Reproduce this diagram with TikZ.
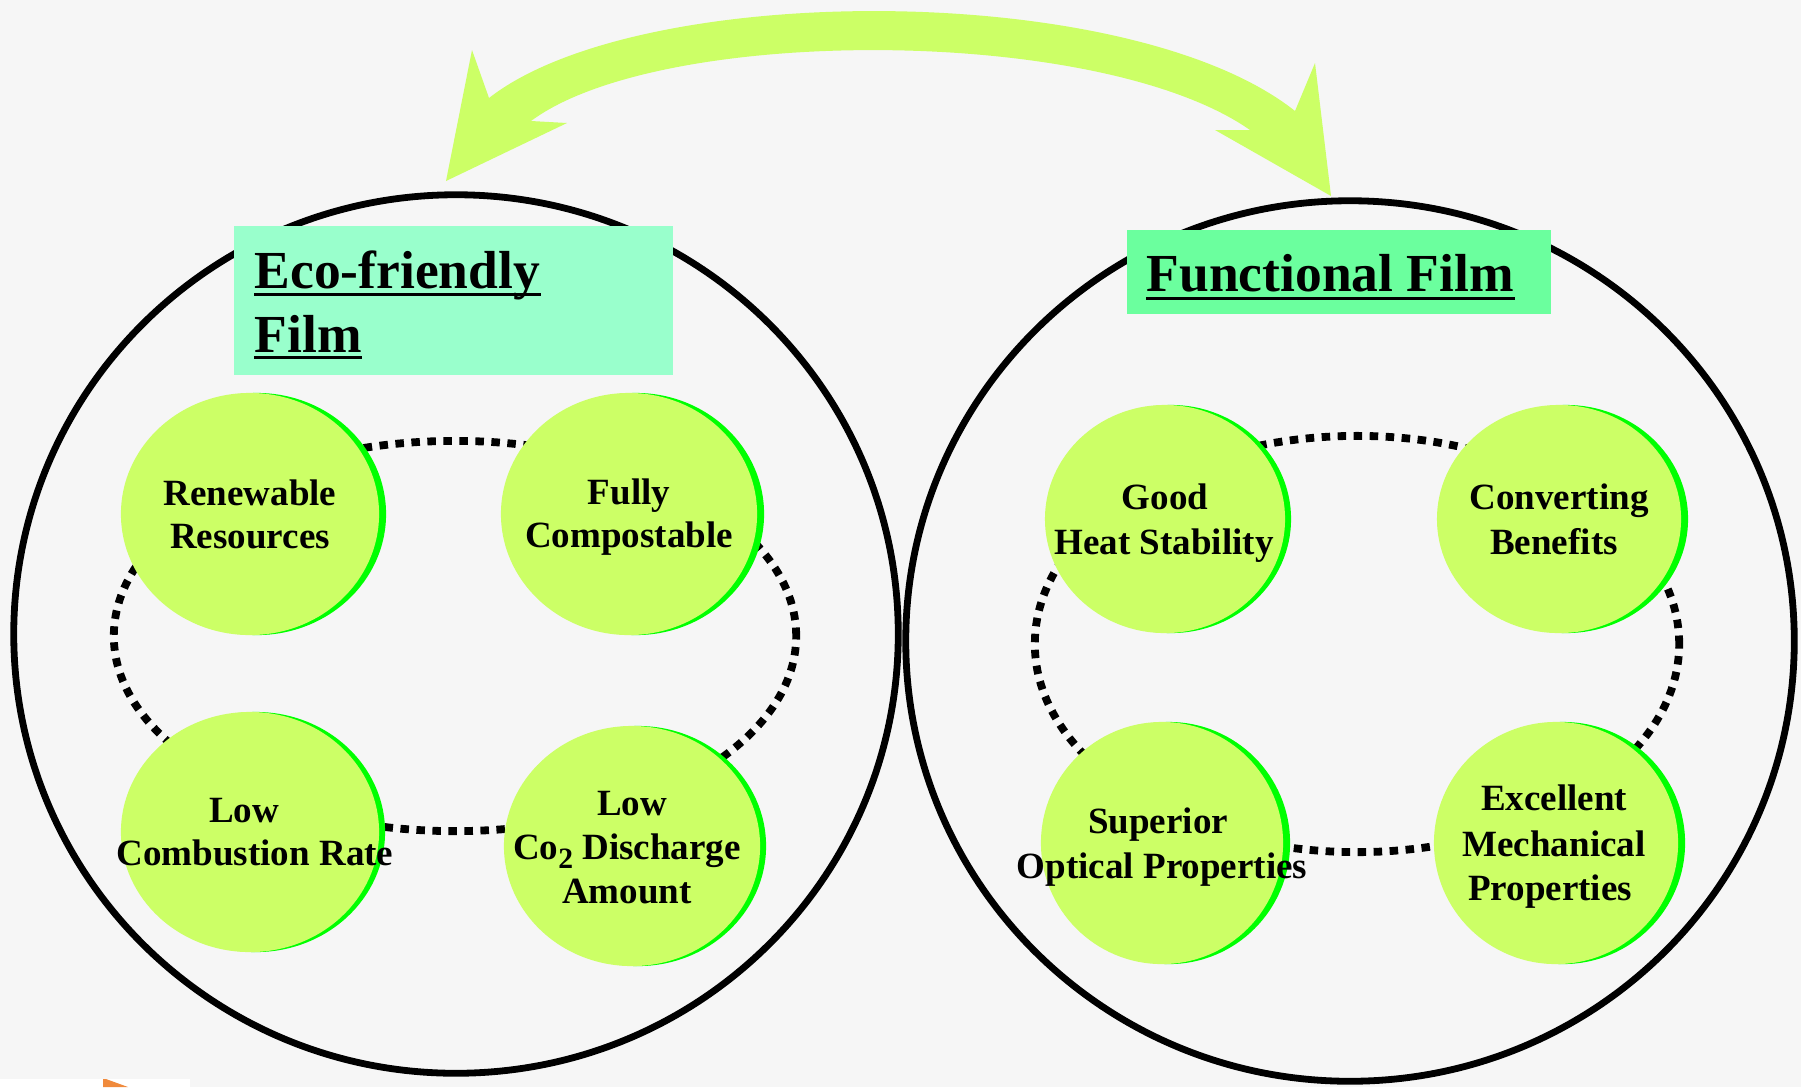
\documentclass[tikz,border=0pt]{standalone}
\usepackage{fontspec}
\setmainfont{Liberation Serif}
\usetikzlibrary{shapes.geometric}
\definecolor{bg}{HTML}{F6F6F6}
\definecolor{lime}{HTML}{CCFF66}
\definecolor{grn}{HTML}{00FF00}
\definecolor{ecobox}{HTML}{99FFCC}
\definecolor{funbox}{HTML}{6BFF9E}
\definecolor{orng}{HTML}{F08A3C}
\begin{document}
\begin{tikzpicture}[x=0.01cm,y=-0.01cm,
 bigell/.style={ellipse, draw=black, line width=0.068cm, inner sep=0},
 dotell/.style={ellipse, draw=black, line width=0.078cm, dash pattern=on 0.085cm off 0.075cm, inner sep=0},
 shadowdisc/.style={ellipse, fill=grn, inner sep=0},
 disc/.style={ellipse, fill=lime, inner sep=0},
 lbl/.style={anchor=base, inner sep=0, font=\bfseries\fontsize{10.53}{12}\selectfont},
 ttl/.style={anchor=base west, inner sep=0, font=\bfseries\fontsize{15.22}{18}\selectfont},
 uline/.style={line width=0.03cm},
 titlebox/.style={rectangle, inner sep=0},
]
\useasboundingbox (0,0) rectangle (1801,1087);
\fill[bg] (0,0) rectangle (1801,1087);
\fill[white] (0,1079) rectangle (190,1087);
\fill[orng] (103,1079) -- (103,1087) -- (128,1087) -- (106,1079) -- cycle;

% big ellipses
\node[bigell, minimum width=8.84cm, minimum height=8.78cm] (leftfilm) at (456,634) {};
\node[bigell, minimum width=8.88cm, minimum height=8.80cm] (rightfilm) at (1350,641) {};

% title boxes
\node[titlebox, fill=ecobox, minimum width=4.39cm, minimum height=1.49cm] (box1) at (453.5,300.5) {};
\node[titlebox, fill=funbox, minimum width=4.24cm, minimum height=0.84cm] (box2) at (1339,272) {};
\node[ttl] (ttl1a) at (254,288) {Eco-friendly};
\node[ttl] (ttl1b) at (254,352) {Film};
\node[ttl] (ttl2) at (1146,291) {Functional Film};
\draw[uline] ([yshift=-1.85pt]ttl1a.base west) -- ([yshift=-1.85pt]ttl1a.base east);
\draw[uline] ([yshift=-1.5pt]ttl1b.base west) -- ([yshift=-1.5pt]ttl1b.base east);
\draw[uline] ([yshift=-2pt]ttl2.base west) -- ([yshift=-2pt]ttl2.base east);

% double headed curved arrow
\fill[lime] (489,98) .. controls (640,-20) and (1130,-20) .. (1295,111) -- (1315,63) -- (1331,196) -- (1215,130) -- (1250,130)
  .. controls (1100,25) and (660,25) .. (531,121) -- (567,123) -- (446,181) -- (472,50) -- cycle;

% dotted rings
\node[dotell, minimum width=6.82cm, minimum height=3.90cm] (ringL) at (455,636) {};
\node[dotell, minimum width=6.44cm, minimum height=4.16cm] (ringR) at (1357,644) {};

% discs: left
\node[shadowdisc, minimum width=2.58cm, minimum height=2.42cm] (s1) at (257,514) {};
\node[disc, minimum width=2.58cm, minimum height=2.42cm] (e1) at (250,514) {};
\node[shadowdisc, minimum width=2.56cm, minimum height=2.42cm] (s2) at (636,514) {};
\node[disc, minimum width=2.56cm, minimum height=2.42cm] (e2) at (629,514) {};
\node[shadowdisc, minimum width=2.58cm, minimum height=2.40cm] (s3) at (256,832) {};
\node[disc, minimum width=2.58cm, minimum height=2.40cm] (e3) at (250,832) {};
\node[shadowdisc, minimum width=2.56cm, minimum height=2.40cm] (s4) at (638,846) {};
\node[disc, minimum width=2.56cm, minimum height=2.40cm] (e4) at (632,846) {};
% discs: right
\node[shadowdisc, minimum width=2.40cm, minimum height=2.28cm] (s5) at (1171,519) {};
\node[disc, minimum width=2.40cm, minimum height=2.28cm] (e5) at (1165,519) {};
\node[shadowdisc, minimum width=2.44cm, minimum height=2.28cm] (s6) at (1566,519) {};
\node[disc, minimum width=2.44cm, minimum height=2.28cm] (e6) at (1559,519) {};
\node[shadowdisc, minimum width=2.42cm, minimum height=2.42cm] (s7) at (1169,843) {};
\node[disc, minimum width=2.42cm, minimum height=2.42cm] (e7) at (1162,843) {};
\node[shadowdisc, minimum width=2.44cm, minimum height=2.42cm] (s8) at (1563,843) {};
\node[disc, minimum width=2.44cm, minimum height=2.42cm] (e8) at (1556,843) {};

% labels
\node[lbl] (t1a) at (250,505) {Renewable};
\node[lbl] (t1b) at (250,548) {Resources};
\node[lbl] (t2a) at (629,504) {Fully};
\node[lbl] (t2b) at (629,547) {Compostable};
\node[lbl] (t3a) at (244,822) {Low};
\node[lbl] (t3b) at (255,865) {Combustion Rate};
\node[lbl] (t4a) at (632,815) {Low};
\node[lbl] (t4b) at (627,859) {Co\raisebox{-2.6pt}{\fontsize{8.4}{8}\selectfont 2} Discharge};
\node[lbl] (t4c) at (627,903) {Amount};
\node[lbl] (t5a) at (1165,509) {Good};
\node[lbl] (t5b) at (1164,554) {Heat Stability};
\node[lbl] (t6a) at (1559,509) {Converting};
\node[lbl] (t6b) at (1554,554) {Benefits};
\node[lbl] (t7a) at (1158,833) {Superior};
\node[lbl] (t7b) at (1162,878) {Optical Properties};
\node[lbl] (t8a) at (1554,810) {Excellent};
\node[lbl] (t8b) at (1554,856) {Mechanical};
\node[lbl] (t8c) at (1550,900) {Properties};
\end{tikzpicture}
\end{document}
